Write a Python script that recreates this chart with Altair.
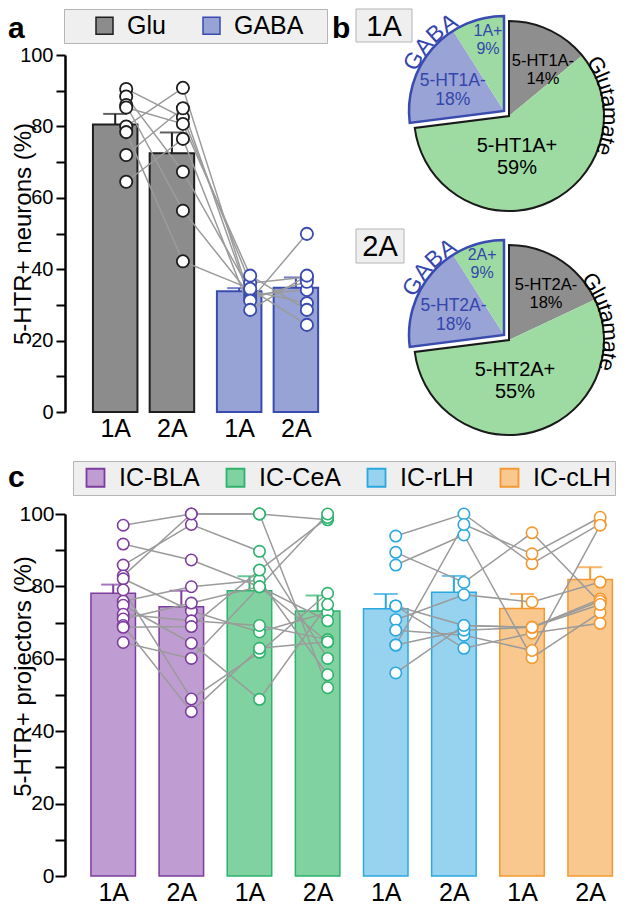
import altair as alt
import numpy as np
import pandas as pd

FONT = "Liberation Sans"

# ---------------- data: panel a ----------------
a_cols = ["Glu 1A", "Glu 2A", "GABA 1A", "GABA 2A"]
a_groups = ["Glu", "Glu", "GABA", "GABA"]
a_ticklabels = ["1A", "2A", "1A", "2A"]
a_means = [80.5, 72.5, 33.8, 34.8]
a_sems = [3.0, 5.8, 0.9, 2.9]
a_glu_1a = [90.5, 88.4, 86.0, 85.3, 80.0, 78.4, 72.0, 64.5]
a_glu_2a = [82.5, 67.3, 56.4, 80.7, 90.8, 42.2, 85.1, 76.5]
a_gaba_1a = [36.1, 34.0, 32.8, 38.2, 31.7, 34.5, 31.2, 28.6]
a_gaba_2a = [37.8, 30.5, 34.2, 28.6, 36.5, 24.4, 49.9, 38.2]

# ---------------- data: panel b ----------------
pie_slices = ["glu_neg", "glu_pos", "gaba_neg", "gaba_pos"]
pie_groups = ["Glutamate", "Glutamate", "GABA", "GABA"]
pie1_values = [14, 59, 18, 9]
pie2_values = [18, 55, 18, 9]
pie1_labels = ["5-HT1A-\n14%", "5-HT1A+\n59%", "5-HT1A-\n18%", "1A+\n9%"]
pie2_labels = ["5-HT2A-\n18%", "5-HT2A+\n55%", "5-HT2A-\n18%", "2A+\n9%"]
pie_titles = ["1A", "2A"]

# ---------------- data: panel c ----------------
c_regions = ["IC-BLA", "IC-CeA", "IC-rLH", "IC-cLH"]
c_cols = ["BLA 1A", "BLA 2A", "CeA 1A", "CeA 2A", "rLH 1A", "rLH 2A", "cLH 1A", "cLH 2A"]
c_ticklabels = ["1A", "2A", "1A", "2A", "1A", "2A", "1A", "2A"]
c_means = [78.1, 74.4, 78.8, 73.2, 73.8, 78.4, 73.9, 81.9]
c_sems = [2.4, 4.4, 4.0, 4.3, 4.1, 4.5, 4.0, 3.4]
c_bla_1a = [96.9, 91.7, 85.9, 82.9, 82.1, 79.0, 75.9, 74.8, 72.3, 71.0, 69.2, 68.7, 64.5, None]
c_bla_2a = [100, 87.3, 97.1, 100, 73.2, 48.9, 79.9, 64.3, 70.5, 75.4, 45.4, 68.9, 60.1, None]
c_cea_1a = [100, 79.9, 89.7, 100, 67.4, 61.8, 81.7, 48.8, 69.2, 79.9, 62.9, 84.5, 79.9, 100]
c_cea_2a = [98.4, 64.7, 60.1, 52.0, 72.8, 78.1, 55.6, 75.0, 65.3, 70.5, 64.7, 99.0, 100.0, None]
c_rlh_1a = [93.9, 89.4, 85.9, 63.8, 74.6, 74.6, 70.8, 67.9, 63.8, 56.1]
c_rlh_2a = [100, 81.1, 94.2, 97.1, 69.2, 62.9, 77.7, 66.5, 67.9, 69.2]
c_clh_1a = [86.3, 94.8, 60.3, 89.0, 68.7, 67.1, 75.7, 62.3, 68.7, 68.7]
c_clh_2a = [97.3, 75.5, 72.8, 99.1, 76.5, 69.8, 81.2, 96.9, 75.9, 75.0]
c_animal_set = [0, 0, 0, 0, 1, 1, 1, 1]  # BLA/CeA animals, rLH/cLH animals

panel_letters = ["a", "b", "c"]

# ---------------- styles / layout ----------------
GLU_FILL, GLU_STROKE = "#8c8c8c", "#1e1e1e"
GABA_FILL, GABA_STROKE = "#98a3d5", "#3a4bb0"
LINE_COLOR = "#9b9b9b"
C_FILLS = ["#bf9dd3", "#80d3a1", "#97d3ef", "#f9c88e"]
C_STROKES = ["#7d3c9e", "#2db36c", "#2aa8df", "#f4982f"]
PIE_FILLS = ["#8e8e8e", "#9edba3", "#99a3d6", "#9edba3"]
GABA_TEXT = "#3446ac"
BOX_FILL, BOX_STROKE = "#efefef", "#b5b5b5"

A_W, A_H = 258, 357
A_GAP = 0.186
A_DOMAIN = [-0.797, 3.576]
C_W, C_H = 550, 362
C_DOMAIN = [-0.634, 7.291]
ROW_GAP = 102
R = 95
PIE_CX = 444
PIE_CY = [61, 285]
EXPLODE = (-5, -5)
# label boxes of the two pies: (x, x2, y, y2) in px from the plot origin
PIE_BOXES = [(291, 347, -46, -13), (291, 339, 174, 208)]


def y_axis(title, label_size, tick_size, title_x, title_y, pad):
    return alt.Axis(title=title, values=list(range(0, 101, 10)),
                    labelExpr="datum.value % 20 == 0 ? datum.label : ''",
                    grid=False, domainColor="black", domainWidth=2.5,
                    tickColor="black", tickWidth=2, tickSize=tick_size,
                    labelFont=FONT, labelFontSize=label_size, labelColor="black", labelPadding=pad,
                    titleFont=FONT, titleFontSize=24, titleFontWeight="normal", titleColor="black",
                    titleAngle=270, titleAlign="center", titleBaseline="alphabetic",
                    titleX=title_x, titleY=title_y)


def x_axis(values, labels):
    arr_v = "[" + ",".join(repr(float(v)) for v in values) + "]"
    arr_l = "[" + ",".join(f"'{t}'" for t in labels) + "]"
    return alt.Axis(title=None, values=[float(v) for v in values],
                    labelExpr=f"{arr_l}[indexof({arr_v}, datum.value)]",
                    domain=False, ticks=False, grid=False, labelFont=FONT, labelFontSize=25,
                    labelColor="black", labelPadding=4, labelFlush=False, labelOverlap=False, labelAngle=0)


def letter_layer(letter, x, y):
    return alt.Chart(pd.DataFrame({"t": [letter]})).mark_text(
        x=x, y=y, align="left", baseline="alphabetic", fontSize=30, fontWeight="bold",
        font=FONT, color="black").encode(text="t:N")


# ================= panel a =================
a_pos = [i + (A_GAP if g == "GABA" else 0.0) for i, g in enumerate(a_groups)]
bars_a = pd.DataFrame({"col": a_cols, "group": a_groups, "pos": a_pos, "mean": a_means,
                       "top": np.add(a_means, a_sems)})
a_series = [a_glu_1a, a_glu_2a, a_gaba_1a, a_gaba_2a]
pts_a = pd.DataFrame([{"subj": j, "order": i, "group": a_groups[i], "pos": a_pos[i], "v": v}
                      for i, s in enumerate(a_series) for j, v in enumerate(s)])

xa_scale = alt.Scale(domain=A_DOMAIN, nice=False, zero=False)
xa_axis = x_axis(a_pos, a_ticklabels)
ya_scale = alt.Scale(domain=[0, 100], nice=False)
ya_axis = y_axis("5-HTR+ neurons (%)", 20, 9, -35, A_H / 2, 3)


def XA():
    return alt.X("pos:Q", scale=xa_scale, axis=xa_axis)


def YA(f):
    return alt.Y(f, scale=ya_scale, axis=ya_axis)


# invisible right-side legend title only widens the box on the right
leg_a = alt.Legend(title="MM", titleOpacity=0, titleOrient="right", titleFontSize=12, titlePadding=0,
                   orient="none", legendX=-1, legendY=-46, direction="horizontal",
                   symbolType="square", symbolSize=289, symbolStrokeWidth=1.5,
                   labelFont=FONT, labelFontSize=25, labelColor="black",
                   fillColor=BOX_FILL, strokeColor=BOX_STROKE, padding=4,
                   symbolOffset=24, labelOffset=10, columnPadding=9)
a_color = alt.condition(alt.datum.group == "Glu", alt.value(GLU_STROKE), alt.value(GABA_STROKE))

bar_a = alt.Chart(bars_a).mark_bar(width=44.5, strokeWidth=2, orient="vertical").encode(
    x=XA(), y=YA("mean:Q"),
    fill=alt.Fill("group:N", scale=alt.Scale(domain=["Glu", "GABA"], range=[GLU_FILL, GABA_FILL]), legend=leg_a),
    stroke=alt.Stroke("group:N", scale=alt.Scale(domain=["Glu", "GABA"], range=[GLU_STROKE, GABA_STROKE]),
                      legend=leg_a))
err_a = alt.Chart(bars_a).mark_rule(strokeWidth=2).encode(x=XA(), y=YA("mean:Q"), y2=alt.Y2("top:Q"), color=a_color)
cap_a = alt.Chart(bars_a).mark_tick(orient="horizontal", size=24, thickness=2).encode(
    x=XA(), y=YA("top:Q"), color=a_color)
line_a = alt.Chart(pts_a).mark_line(xOffset=11, color=LINE_COLOR, strokeWidth=1.5).encode(
    x=XA(), y=YA("v:Q"), detail="subj:N", order="order:Q")
pt_a = alt.Chart(pts_a).mark_circle(size=150, fill="white", opacity=1, strokeWidth=1.8, xOffset=11).encode(
    x=XA(), y=YA("v:Q"), stroke=a_color)

# ================= panel b (pies, drawn in the same view, placed to the right) =================
TH = alt.Scale(domain=[0, 100], range=[0, 2 * np.pi])
slice_color = alt.Scale(domain=pie_slices, range=PIE_FILLS)
ARIAL_W = {"G": .778, "A": .667, "B": .667, "l": .222, "u": .556, "t": .278, "a": .556, "m": .833, "e": .556}

LABEL_STYLE = {  # slice: (angle deg, radius px, font size, line height)
    0: {"glu_neg": (36.5, 57, 16.5, 18), "glu_pos": (169, 42, 20, 22),
        "gaba_neg": (291.4, 55, 17.5, 19), "gaba_pos": (347.3, 73, 16, 18)},
    1: {"glu_neg": (38.8, 59, 16.5, 18), "glu_pos": (171.6, 41, 20, 22),
        "gaba_neg": (290.8, 54, 17.5, 19), "gaba_pos": (342.8, 74, 16, 18)},
}
CURVE_STYLE = {0: {"Glutamate": 60, "GABA": 299}, 1: {"Glutamate": 55, "GABA": 298}}


def curved(word, first_deg, r, fs, track):
    ws = np.array([ARIAL_W[ch] * fs + track for ch in word])
    cum = np.concatenate([[0], np.cumsum(ws)[:-1]])
    centers = cum + ws / 2 - ws[0] / 2
    degs = first_deg + np.degrees(centers / r)
    return pd.DataFrame({"ch": list(word), "th": degs / 3.6, "ang": degs})


pie_layers = []
for k, (vals, labs) in enumerate([(pie1_values, pie1_labels), (pie2_values, pie2_labels)]):
    v = np.array(vals, dtype=float)
    end = np.cumsum(v)
    start = end - v
    df = pd.DataFrame({"slice": pie_slices, "group": pie_groups, "start": start, "end": end, "label": labs})
    cx, cy = PIE_CX, PIE_CY[k]
    centers = {"Glutamate": (cx, cy), "GABA": (cx + EXPLODE[0], cy + EXPLODE[1])}
    outline = df.groupby("group", sort=False).agg(start=("start", "min"), end=("end", "max")).reset_index()
    for grp, ocol, ow in [("Glutamate", "#1a1a1a", 2.0), ("GABA", GABA_STROKE, 2.5)]:
        gx, gy = centers[grp]
        pie_layers.append(
            alt.Chart(df[df.group == grp]).mark_arc(x=gx, y=gy, radius=R).encode(
                theta=alt.Theta("start:Q", scale=TH, stack=False), theta2="end:Q",
                color=alt.Color("slice:N", scale=slice_color, legend=None)))
        pie_layers.append(
            alt.Chart(outline[outline.group == grp]).mark_arc(
                x=gx, y=gy, radius=R, fillOpacity=0, stroke=ocol, strokeWidth=ow).encode(
                theta=alt.Theta("start:Q", scale=TH, stack=False), theta2="end:Q"))
    for _, row in df.iterrows():
        ang, rr, fs, lh = LABEL_STYLE[k][row["slice"]]
        gx, gy = centers[row["group"]]
        ldf = pd.DataFrame({"label": [row["label"]], "lt": [ang / 3.6]})
        pie_layers.append(
            alt.Chart(ldf).mark_text(x=gx, y=gy, radius=rr, dy=-lh / 2, fontSize=fs, lineHeight=lh,
                                     lineBreak="\n", font=FONT, align="center", baseline="middle",
                                     color=GABA_TEXT if row["group"] == "GABA" else "black").encode(
                text="label:N", theta=alt.Theta("lt:Q", scale=TH, stack=False)))
    for word, col, rr, fs, track in [("Glutamate", "black", 101, 22, 0.0), ("GABA", GABA_TEXT, 103, 23, 1.5)]:
        gx, gy = centers["GABA" if word == "GABA" else "Glutamate"]
        cdf = curved(word, CURVE_STYLE[k][word], rr, fs, track)
        pie_layers.append(
            alt.Chart(cdf).mark_text(x=gx, y=gy, radius=rr, fontSize=fs, font=FONT, color=col,
                                     align="center", baseline="middle").encode(
                text="ch:N", theta=alt.Theta("th:Q", scale=TH, stack=False),
                angle=alt.Angle("ang:Q", scale=None)))
    # grey label box ("1A" / "2A") above-left of the pie
    bx, bx2, by, by2 = PIE_BOXES[k]
    tdf = pd.DataFrame({"t": [pie_titles[k]]})
    pie_layers.append(
        alt.Chart(tdf).mark_rect(fill=BOX_FILL, stroke=BOX_STROKE, strokeWidth=1).encode(
            x=alt.value(bx), x2=alt.value(bx2), y=alt.value(by), y2=alt.value(by2)))
    pie_layers.append(
        alt.Chart(tdf).mark_text(x=(bx + bx2) / 2, y=(by + by2) / 2 + 1, fontSize=29, font=FONT,
                                 color="black", align="center", baseline="middle").encode(text="t:N"))

panel_ab = alt.layer(bar_a, err_a, cap_a, line_a, pt_a, *pie_layers,
                     letter_layer(panel_letters[0], -57, -17),
                     letter_layer(panel_letters[1], PIE_CX - 177, -17)).properties(width=A_W, height=A_H)

# ================= panel c =================
c_region_of_col = [r for r in c_regions for _ in (0, 1)]
c_pos = list(range(len(c_cols)))
bars_c = pd.DataFrame({"col": c_cols, "pos": c_pos, "region": c_region_of_col, "mean": c_means,
                       "top": np.add(c_means, c_sems)})
c_series = [c_bla_1a, c_bla_2a, c_cea_1a, c_cea_2a, c_rlh_1a, c_rlh_2a, c_clh_1a, c_clh_2a]
pts_c = pd.DataFrame([{"pos": c_pos[i], "region": c_region_of_col[i], "subj": f"{c_animal_set[i]}-{j}",
                       "order": i, "v": v}
                      for i, s in enumerate(c_series) for j, v in enumerate(s) if v is not None])

xc_scale = alt.Scale(domain=C_DOMAIN, nice=False, zero=False)
xc_axis = x_axis(c_pos, c_ticklabels)
yc_scale = alt.Scale(domain=[0, 100], nice=False)
yc_axis = y_axis("5-HTR+  projectors (%)", 21, 10, -35, 162, 1)


def XC():
    return alt.X("pos:Q", scale=xc_scale, axis=xc_axis)


def YC(f):
    return alt.Y(f, scale=yc_scale, axis=yc_axis)


fill_c = alt.Scale(domain=c_regions, range=C_FILLS)
stroke_c = alt.Scale(domain=c_regions, range=C_STROKES)
leg_c = alt.Legend(title=None, orient="none", legendX=8, legendY=-53, direction="horizontal",
                   symbolType="square", symbolSize=324, symbolStrokeWidth=1.8,
                   labelFont=FONT, labelFontSize=25, labelColor="black",
                   fillColor=BOX_FILL, strokeColor=BOX_STROKE, padding=4,
                   symbolOffset=6, labelOffset=11, columnPadding=17)

bar_c = alt.Chart(bars_c).mark_bar(width=44.5, strokeWidth=1.5, orient="vertical").encode(
    x=XC(), y=YC("mean:Q"),
    fill=alt.Fill("region:N", scale=fill_c, legend=leg_c),
    stroke=alt.Stroke("region:N", scale=stroke_c, legend=leg_c))
err_c = alt.Chart(bars_c).mark_rule(strokeWidth=2).encode(
    x=XC(), y=YC("mean:Q"), y2=alt.Y2("top:Q"), stroke=alt.Stroke("region:N", scale=stroke_c, legend=None))
cap_c = alt.Chart(bars_c).mark_tick(orient="horizontal", size=24, thickness=2).encode(
    x=XC(), y=YC("top:Q"), color=alt.Color("region:N", scale=alt.Scale(domain=c_regions, range=C_STROKES),
                                            legend=None))
line_c = alt.Chart(pts_c).mark_line(xOffset=10, color=LINE_COLOR, strokeWidth=1.5).encode(
    x=XC(), y=YC("v:Q"), detail="subj:N", order="order:Q")
pt_c = alt.Chart(pts_c).mark_circle(size=130, fill="white", opacity=1, strokeWidth=1.6, xOffset=10).encode(
    x=XC(), y=YC("v:Q"), stroke=alt.Stroke("region:N", scale=stroke_c, legend=None))

panel_c = alt.layer(bar_c, err_c, cap_c, line_c, pt_c, letter_layer(panel_letters[2], -57, -27)).properties(
    width=C_W, height=C_H)

# ================= layout =================
indep_scales = dict(x="independent", y="independent", fill="independent", stroke="independent",
                    theta="independent", color="independent")
indep_legends = dict(fill="independent", stroke="independent", color="independent")

chart = alt.vconcat(panel_ab, panel_c, spacing=ROW_GAP, bounds="flush")
chart = chart.resolve_scale(**indep_scales).resolve_legend(**indep_legends)
chart = chart.properties(padding=0, background="white").configure(font=FONT).configure_view(strokeWidth=0)

chart.save("out.html", embed_options={"renderer": "svg", "actions": False})
